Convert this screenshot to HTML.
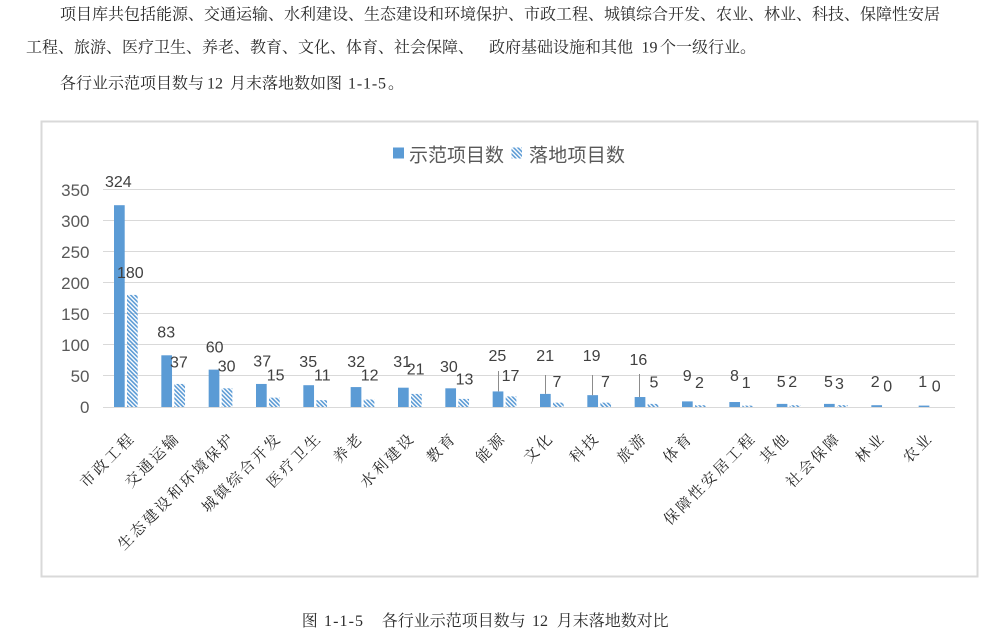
<!DOCTYPE html>
<html>
<head>
<meta charset="utf-8">
<style>
  html, body { margin: 0; padding: 0; background: #ffffff; }
  body { width: 983px; height: 641px; overflow: hidden; position: relative; }
  svg { position: absolute; left: 0; top: 0; display: block; }
  .body { font-family: "Liberation Serif", "Noto Serif CJK SC", serif; font-size: 16px; fill: #2b2b2b; }
  .dl { font-family: "Liberation Sans", "Noto Sans CJK SC", sans-serif; font-size: 16px; fill: #404040; }
  .yl { font-family: "Liberation Sans", "Noto Sans CJK SC", sans-serif; font-size: 17px; fill: #595959; text-anchor: end; }
  .lg { font-family: "Liberation Sans", "Noto Sans CJK SC", sans-serif; font-size: 19px; fill: #595959; }
  .xl { font-family: "Liberation Serif", "Noto Serif CJK SC", serif; font-size: 15px; fill: #262626; letter-spacing: 2.6px; text-anchor: end; }
</style>
</head>
<body>
<svg width="983" height="641" viewBox="0 0 983 641" xmlns="http://www.w3.org/2000/svg">
  <defs>
    <pattern id="hatch" patternUnits="userSpaceOnUse" width="3" height="3" patternTransform="rotate(-45)">
      <rect x="0" y="0" width="1.6" height="3" fill="#5b9bd5"/>
    </pattern>
  </defs>

  <!-- Body text -->
  <text class="body" x="60" y="19.5" textLength="880" lengthAdjust="spacing">项目库共包括能源、交通运输、水利建设、生态建设和环境保护、市政工程、城镇综合开发、农业、林业、科技、保障性安居</text>
  <text class="body" x="26" y="52.5" textLength="448" lengthAdjust="spacing">工程、旅游、医疗卫生、养老、教育、文化、体育、社会保障、</text>
  <text class="body" x="489" y="52.5" textLength="144" lengthAdjust="spacing">政府基础设施和其他</text>
  <text class="body" x="641.5" y="52.5">19</text>
  <text class="body" x="660" y="52.5" textLength="96" lengthAdjust="spacing">个一级行业。</text>

  <text class="body" x="60" y="88.5" textLength="144" lengthAdjust="spacing">各行业示范项目数与</text>
  <text class="body" x="207" y="88.5">12</text>
  <text class="body" x="230" y="88.5" textLength="112" lengthAdjust="spacing">月末落地数如图</text>
  <text class="body" x="348" y="88.5" textLength="38" lengthAdjust="spacing">1-1-5</text>
  <text class="body" x="388" y="88.5">。</text>

  <!-- Chart frame -->
  <rect x="41.5" y="121.5" width="936" height="455" fill="#ffffff" stroke="#d9d9d9" stroke-width="2"/>

  <!-- Legend -->
  <rect x="393" y="147.5" width="11" height="11" fill="#5b9bd5"/>
  <text class="lg" x="409" y="161.5" textLength="95" lengthAdjust="spacing">示范项目数</text>
  <rect x="511.5" y="147.5" width="10.5" height="11" fill="url(#hatch)"/>
  <text class="lg" x="529" y="161.5" textLength="96" lengthAdjust="spacing">落地项目数</text>

  <!-- Gridlines -->
  <g stroke="#d9d9d9" stroke-width="1">
    <line x1="103" y1="189.5" x2="955" y2="189.5"/>
    <line x1="103" y1="220.5" x2="955" y2="220.5"/>
    <line x1="103" y1="251.5" x2="955" y2="251.5"/>
    <line x1="103" y1="282.5" x2="955" y2="282.5"/>
    <line x1="103" y1="313.5" x2="955" y2="313.5"/>
    <line x1="103" y1="344.5" x2="955" y2="344.5"/>
    <line x1="103" y1="375.5" x2="955" y2="375.5"/>
  </g>

  <!-- Y-axis labels -->
  <text class="yl" x="89.5" y="196">350</text>
  <text class="yl" x="89.5" y="227">300</text>
  <text class="yl" x="89.5" y="258">250</text>
  <text class="yl" x="89.5" y="289">200</text>
  <text class="yl" x="89.5" y="320">150</text>
  <text class="yl" x="89.5" y="351">100</text>
  <text class="yl" x="89.5" y="382">50</text>
  <text class="yl" x="89.5" y="413">0</text>

  <!-- Bars: 示范项目数 -->
  <g fill="#5b9bd5">
    <rect x="114" y="205.2" width="10.7" height="201.8"/>
    <rect x="161.33" y="355.3" width="10.7" height="51.7"/>
    <rect x="208.67" y="369.63" width="10.7" height="37.37"/>
    <rect x="256" y="383.95" width="10.7" height="23.05"/>
    <rect x="303.33" y="385.2" width="10.7" height="21.8"/>
    <rect x="350.67" y="387.07" width="10.7" height="19.93"/>
    <rect x="398" y="387.69" width="10.7" height="19.31"/>
    <rect x="445.33" y="388.31" width="10.7" height="18.69"/>
    <rect x="492.67" y="391.43" width="10.7" height="15.57"/>
    <rect x="540" y="393.92" width="10.7" height="13.08"/>
    <rect x="587.33" y="395.16" width="10.7" height="11.84"/>
    <rect x="634.67" y="397.03" width="10.7" height="9.97"/>
    <rect x="682" y="401.39" width="10.7" height="5.61"/>
    <rect x="729.33" y="402.02" width="10.7" height="4.98"/>
    <rect x="776.67" y="403.89" width="10.7" height="3.11"/>
    <rect x="824" y="403.89" width="10.7" height="3.11"/>
    <rect x="871.33" y="405.2" width="10.7" height="1.8"/>
    <rect x="918.67" y="405.6" width="10.7" height="1.4"/>
  </g>

  <!-- Bars: 落地项目数 (hatched) -->
  <g fill="url(#hatch)">
    <rect x="127" y="294.9" width="10.7" height="112.1"/>
    <rect x="174.33" y="383.95" width="10.7" height="23.05"/>
    <rect x="221.67" y="388.31" width="10.7" height="18.69"/>
    <rect x="269" y="397.66" width="10.7" height="9.34"/>
    <rect x="316.33" y="400.15" width="10.7" height="6.85"/>
    <rect x="363.67" y="399.53" width="10.7" height="7.47"/>
    <rect x="411" y="393.92" width="10.7" height="13.08"/>
    <rect x="458.33" y="398.9" width="10.7" height="8.1"/>
    <rect x="505.67" y="396.41" width="10.7" height="10.59"/>
    <rect x="553" y="402.64" width="10.7" height="4.36"/>
    <rect x="600.33" y="402.64" width="10.7" height="4.36"/>
    <rect x="647.67" y="403.89" width="10.7" height="3.11"/>
    <rect x="695" y="405.2" width="10.7" height="1.8"/>
    <rect x="742.33" y="405.6" width="10.7" height="1.4"/>
    <rect x="789.67" y="405.2" width="10.7" height="1.8"/>
    <rect x="837" y="405.13" width="10.7" height="1.87"/>
  </g>

  <!-- Axis line -->
  <line x1="103" y1="407.5" x2="955" y2="407.5" stroke="#d9d9d9" stroke-width="1"/>

  <!-- Leader lines -->
  <g stroke="#8c8c8c" stroke-width="1">
    <line x1="498.5" y1="371" x2="498.5" y2="391.4"/>
    <line x1="545.5" y1="375" x2="545.5" y2="393.9"/>
    <line x1="592.5" y1="375" x2="592.5" y2="395.2"/>
    <line x1="639.5" y1="374" x2="639.5" y2="397"/>
  </g>

  <!-- Data labels: 示范项目数 -->
  <text class="dl" x="105" y="187">324</text>
  <text class="dl" x="157.3" y="337.7">83</text>
  <text class="dl" x="205.7" y="352.3">60</text>
  <text class="dl" x="253.3" y="366.7">37</text>
  <text class="dl" x="299.3" y="367">35</text>
  <text class="dl" x="347.3" y="367">32</text>
  <text class="dl" x="393.3" y="367">31</text>
  <text class="dl" x="440" y="372">30</text>
  <text class="dl" x="488.5" y="361">25</text>
  <text class="dl" x="536.3" y="361">21</text>
  <text class="dl" x="582.7" y="361">19</text>
  <text class="dl" x="629.5" y="365">16</text>
  <text class="dl" x="682.7" y="381">9</text>
  <text class="dl" x="730" y="381">8</text>
  <text class="dl" x="776.7" y="387">5</text>
  <text class="dl" x="824" y="387">5</text>
  <text class="dl" x="870.7" y="387">2</text>
  <text class="dl" x="918.3" y="387">1</text>

  <!-- Data labels: 落地项目数 -->
  <text class="dl" x="117" y="278">180</text>
  <text class="dl" x="170" y="367.3">37</text>
  <text class="dl" x="217.7" y="371.7">30</text>
  <text class="dl" x="266.7" y="380.7">15</text>
  <text class="dl" x="314" y="380.7">11</text>
  <text class="dl" x="360.7" y="380.7">12</text>
  <text class="dl" x="406.7" y="374.3">21</text>
  <text class="dl" x="455.6" y="384.7">13</text>
  <text class="dl" x="501.6" y="381.2">17</text>
  <text class="dl" x="552.5" y="387">7</text>
  <text class="dl" x="601" y="387">7</text>
  <text class="dl" x="649.5" y="387.5">5</text>
  <text class="dl" x="695" y="388">2</text>
  <text class="dl" x="741.7" y="388">1</text>
  <text class="dl" x="788.3" y="387">2</text>
  <text class="dl" x="835" y="389">3</text>
  <text class="dl" x="883.3" y="391.7">0</text>
  <text class="dl" x="931.7" y="391.7">0</text>

  <!-- X-axis category labels (rotated -45°) -->
  <text class="xl" x="136" y="438.7" transform="rotate(-45 136 438.7)">市政工程</text>
  <text class="xl" x="181" y="438.7" transform="rotate(-45 181 438.7)">交通运输</text>
  <text class="xl" x="236" y="438.7" transform="rotate(-45 236 438.7)">生态建设和环境保护</text>
  <text class="xl" x="282.7" y="438.7" transform="rotate(-45 282.7 438.7)">城镇综合开发</text>
  <text class="xl" x="322.7" y="438.7" transform="rotate(-45 322.7 438.7)">医疗卫生</text>
  <text class="xl" x="364.3" y="438.7" transform="rotate(-45 364.3 438.7)">养老</text>
  <text class="xl" x="416" y="438.7" transform="rotate(-45 416 438.7)">水利建设</text>
  <text class="xl" x="457.7" y="438.7" transform="rotate(-45 457.7 438.7)">教育</text>
  <text class="xl" x="507" y="438.7" transform="rotate(-45 507 438.7)">能源</text>
  <text class="xl" x="554.7" y="438.7" transform="rotate(-45 554.7 438.7)">文化</text>
  <text class="xl" x="600.7" y="438.7" transform="rotate(-45 600.7 438.7)">科技</text>
  <text class="xl" x="648.3" y="438.7" transform="rotate(-45 648.3 438.7)">旅游</text>
  <text class="xl" x="694.2" y="438.7" transform="rotate(-45 694.2 438.7)">体育</text>
  <text class="xl" x="757" y="438.7" transform="rotate(-45 757 438.7)">保障性安居工程</text>
  <text class="xl" x="791" y="438.7" transform="rotate(-45 791 438.7)">其他</text>
  <text class="xl" x="842" y="438.7" transform="rotate(-45 842 438.7)">社会保障</text>
  <text class="xl" x="886.4" y="438.7" transform="rotate(-45 886.4 438.7)">林业</text>
  <text class="xl" x="934" y="438.7" transform="rotate(-45 934 438.7)">农业</text>

  <!-- Caption -->
  <text class="body" x="301.7" y="626">图</text>
  <text class="body" x="324" y="626" textLength="39" lengthAdjust="spacing">1-1-5</text>
  <text class="body" x="381.7" y="626" textLength="144" lengthAdjust="spacing">各行业示范项目数与</text>
  <text class="body" x="532" y="626">12</text>
  <text class="body" x="556.7" y="626" textLength="112" lengthAdjust="spacing">月末落地数对比</text>
</svg>
</body>
</html>
